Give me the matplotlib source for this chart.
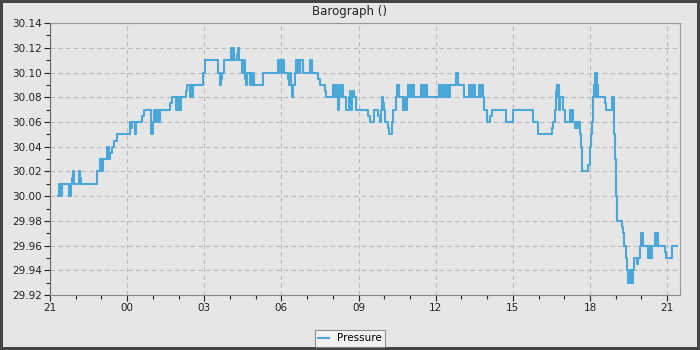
import datetime as dt
import matplotlib
matplotlib.use('Agg')
import matplotlib.pyplot as plt
import matplotlib.dates as mdates
from matplotlib.ticker import MultipleLocator, FormatStrFormatter

# readings: hours after 21:00 and pressure (inHg), held until the next reading
hours = [0.32, 0.36, 0.39, 0.42, 0.44, 0.46, 0.75, 0.80, 0.87, 0.91, 0.95, 1.14, 1.18, 1.22,
         1.82, 1.95, 1.98, 2.00, 2.02, 2.07, 2.21, 2.26, 2.28, 2.31, 2.35, 2.41, 2.49, 2.62,
         3.11, 3.16, 3.20, 3.31, 3.33, 3.58, 3.66, 3.92, 3.93, 4.00, 4.05, 4.08, 4.12, 4.16,
         4.20, 4.24, 4.29, 4.67, 4.76, 4.90, 4.94, 4.98, 5.02, 5.06, 5.10, 5.29, 5.34, 5.45,
         5.48, 5.52, 5.56, 5.95, 6.03, 6.55, 6.61, 6.65, 6.69, 6.77, 7.04, 7.08, 7.12, 7.16,
         7.26, 7.30, 7.35, 7.48, 7.56, 7.60, 7.64, 7.66, 7.78, 7.82, 7.86, 7.90, 7.94, 8.30,
         8.88, 8.92, 8.96, 9.01, 9.04, 9.09, 9.27, 9.31, 9.35, 9.37, 9.43, 9.46, 9.52, 9.55,
         9.61, 9.65, 9.71, 9.74, 9.83, 10.11, 10.18, 10.44, 10.50, 10.70, 10.74, 11.02, 11.06,
         11.10, 11.14, 11.18, 11.21, 11.25, 11.28, 11.32, 11.36, 11.40, 11.51, 11.64, 11.68,
         11.72, 11.75, 11.80, 11.84, 11.89, 12.38, 12.44, 12.62, 12.76, 12.83, 12.88, 12.93,
         12.97, 12.99, 13.03, 13.16, 13.19, 13.32, 13.34, 13.47, 13.51, 13.58, 13.74, 13.77,
         13.81, 13.88, 13.94, 13.98, 14.02, 14.08, 14.12, 14.17, 14.43, 14.47, 14.51, 14.57,
         14.61, 14.67, 15.13, 15.21, 15.30, 15.34, 15.38, 15.44, 15.48, 15.52, 15.56, 15.79,
         15.88, 16.12, 16.31, 16.36, 16.40, 16.45, 16.49, 16.53, 16.70, 16.74, 16.77, 16.83,
         16.88, 17.00, 17.12, 17.19, 17.74, 18.01, 18.80, 18.99, 19.52, 19.58, 19.64, 19.67,
         19.70, 19.72, 19.76, 19.79, 19.82, 19.97, 20.03, 20.23, 20.27, 20.31, 20.34, 20.42,
         20.46, 20.50, 20.54, 20.61, 20.64, 20.67, 20.70, 20.94, 20.99, 21.02, 21.05, 21.07,
         21.10, 21.15, 21.17, 21.20, 21.23, 21.25, 21.28, 21.31, 21.33, 21.59, 21.63, 21.87,
         21.93, 21.95, 21.98, 22.01, 22.03, 22.06, 22.25, 22.30, 22.34, 22.39, 22.45, 22.48,
         22.52, 22.56, 22.60, 22.64, 22.68, 22.72, 22.83, 22.86, 22.96, 22.99, 23.02, 23.04,
         23.08, 23.26, 23.30, 23.33, 23.37, 23.39, 23.42, 23.53, 23.57, 23.60, 23.65, 23.91,
         23.96, 24.20, 24.39]
pressure = [30.00, 30.01, 30.00, 30.01, 30.00, 30.01, 30.00, 30.01, 30.015, 30.02, 30.01, 30.02, 30.015, 30.01,
            30.02, 30.03, 30.02, 30.03, 30.02, 30.03, 30.04, 30.03, 30.04, 30.03, 30.035, 30.04, 30.045, 30.05,
            30.06, 30.055, 30.06, 30.05, 30.06, 30.065, 30.07, 30.06, 30.05, 30.06, 30.07, 30.06, 30.07, 30.06,
            30.07, 30.06, 30.07, 30.075, 30.08, 30.07, 30.08, 30.07, 30.08, 30.07, 30.08, 30.085, 30.09, 30.08,
            30.09, 30.08, 30.09, 30.10, 30.11, 30.10, 30.09, 30.095, 30.10, 30.11, 30.12, 30.11, 30.12, 30.11,
            30.115, 30.12, 30.11, 30.10, 30.11, 30.095, 30.09, 30.10, 30.09, 30.10, 30.09, 30.10, 30.09, 30.10,
            30.11, 30.10, 30.11, 30.10, 30.11, 30.10, 30.095, 30.09, 30.10, 30.09, 30.08, 30.09, 30.10, 30.11,
            30.10, 30.11, 30.10, 30.11, 30.10, 30.11, 30.10, 30.095, 30.09, 30.085, 30.08, 30.09, 30.08,
            30.09, 30.08, 30.09, 30.07, 30.08, 30.09, 30.08, 30.09, 30.08, 30.07, 30.08, 30.085,
            30.07, 30.08, 30.085, 30.08, 30.07, 30.065, 30.06, 30.07, 30.065, 30.06, 30.07, 30.08,
            30.075, 30.07, 30.06, 30.055, 30.05, 30.06, 30.07, 30.08, 30.09, 30.08, 30.07, 30.08,
            30.07, 30.08, 30.09, 30.08, 30.09, 30.08, 30.09, 30.08, 30.09, 30.08, 30.09, 30.08,
            30.09, 30.08, 30.09, 30.08, 30.09, 30.08, 30.09, 30.08, 30.09, 30.08, 30.09, 30.10,
            30.09, 30.08, 30.09, 30.08, 30.09, 30.08, 30.09, 30.08, 30.09, 30.08, 30.09, 30.08,
            30.07, 30.06, 30.065, 30.07, 30.06, 30.07, 30.06, 30.05, 30.055, 30.06, 30.07, 30.085,
            30.09, 30.08, 30.09, 30.07, 30.08, 30.07, 30.06, 30.07, 30.06, 30.07, 30.06, 30.055,
            30.06, 30.055, 30.06, 30.05, 30.045, 30.04, 30.02, 30.025, 30.03, 30.04, 30.05, 30.06,
            30.08, 30.09, 30.08, 30.10, 30.09, 30.10, 30.08, 30.09, 30.08, 30.075, 30.07, 30.08,
            30.075, 30.05, 30.03, 30.01, 30.00, 29.98, 29.975, 29.97, 29.96, 29.95, 29.94, 29.93,
            29.94, 29.93, 29.94, 29.93, 29.94, 29.95, 29.945, 29.95, 29.96, 29.97, 29.96, 29.97,
            29.96, 29.95, 29.96, 29.95, 29.96, 29.95, 29.96, 29.97, 29.96, 29.97, 29.96, 29.955,
            29.95, 29.96, 29.96]

start = dt.datetime(2024, 1, 20, 21, 0)
times = [start + dt.timedelta(hours=h) for h in hours]

fig = plt.figure(figsize=(7, 3.5), dpi=100)
fig.patch.set_facecolor('#e6e6e6')
fig.patch.set_edgecolor('#444444')
fig.patch.set_linewidth(3)

ax = fig.add_axes([0.0714, 0.157, 0.90, 0.777])
ax.set_facecolor('#e6e6e6')
line, = ax.step(times, pressure, where='post', color='#4aa8d8', lw=1.5, label='Pressure')

ax.set_xlim(start, start + dt.timedelta(hours=24.5))
ax.set_ylim(29.92, 30.14)
ax.xaxis.set_major_locator(mdates.HourLocator(byhour=range(0, 24, 3)))
ax.xaxis.set_minor_locator(mdates.HourLocator())
ax.xaxis.set_major_formatter(mdates.DateFormatter('%H'))
ax.yaxis.set_major_locator(MultipleLocator(0.02))
ax.yaxis.set_minor_locator(MultipleLocator(0.01))
ax.yaxis.set_major_formatter(FormatStrFormatter('%.2f'))

ax.grid(True, which='major', color='#bbbbbb', linestyle=(0, (4, 3)), lw=0.8)
ax.tick_params(which='major', length=4, width=0.8, labelsize=7.5, colors='#222222', pad=2)
ax.tick_params(which='minor', length=3, width=0.8, colors='#222222')
for s in ax.spines.values():
    s.set_color('#999999')
ax.spines['left'].set_color('#666666')
ax.spines['bottom'].set_color('#888888')

fig.text(0.5, 0.968, 'Barograph ()', ha='center', va='center', fontsize=8.5, color='#222222')
leg = fig.legend(handles=[line], loc='lower center', bbox_to_anchor=(0.5, -0.005), fontsize=7.5,
                 frameon=True, fancybox=False, handlelength=1.0, borderpad=0.3)
leg.get_frame().set_facecolor('#f6f6f6')
leg.get_frame().set_edgecolor('#777777')
leg.get_frame().set_linewidth(0.8)

fig.savefig('out.png', dpi=100, facecolor=fig.get_facecolor(), edgecolor=fig.get_edgecolor())
